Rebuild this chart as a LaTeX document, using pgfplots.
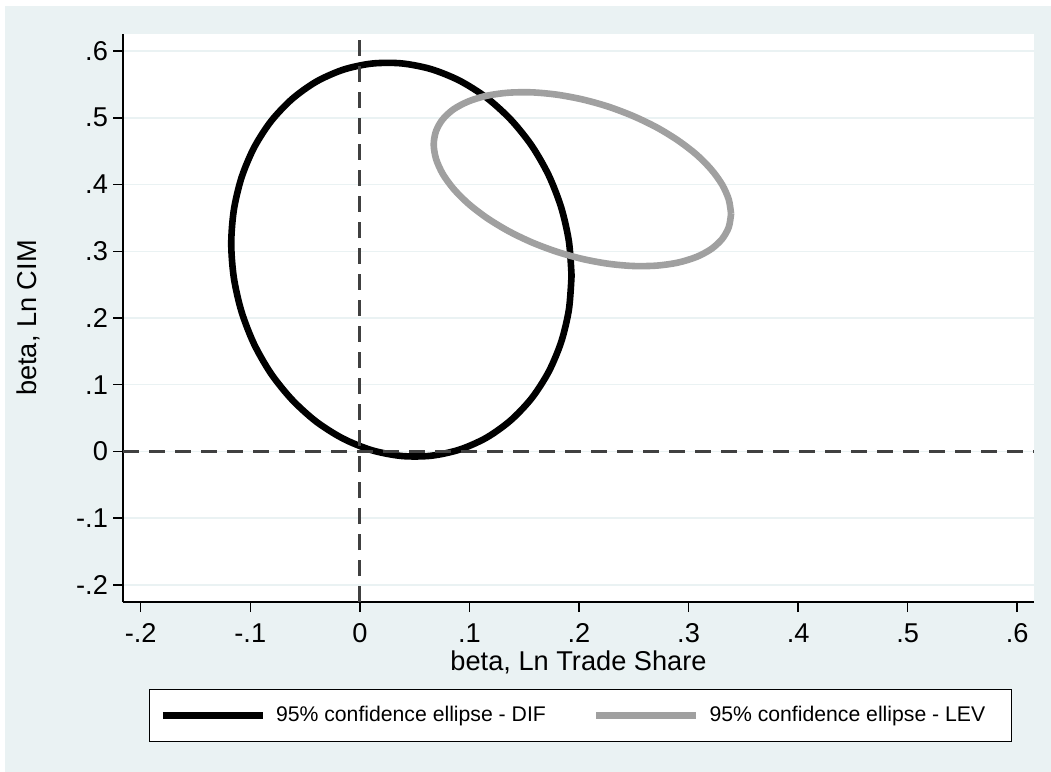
\documentclass[border=0pt]{standalone}
\usepackage{fontspec}
\setmainfont{Liberation Sans}
\usepackage{pgfplots}
\pgfplotsset{compat=1.18}
\definecolor{bg}{RGB}{234,242,243}
\definecolor{lev}{RGB}{160,160,160}
\definecolor{refl}{RGB}{64,64,64}
\begin{document}
\begin{tikzpicture}
\fill[white] (0,0) rectangle (525.5pt,386pt);
\fill[bg] (2.5pt,0) rectangle (525.5pt,383pt);
\begin{axis}[
 at={(61.5pt,85pt)}, anchor=south west,
 scale only axis, width=455.5pt, height=284pt,
 xmin=-0.2162, xmax=0.6153, ymin=-0.2255, ymax=0.6255,
 axis lines=left, axis line style={-, black, line width=0.75pt},
 axis background/.style={fill=white},
 tick align=outside, major tick length=5pt,
 tick style={black, line width=0.75pt},
 xtick={-0.2,-0.1,0,0.1,0.2,0.3,0.4,0.5,0.6},
 xticklabels={-.2,-.1,0,.1,.2,.3,.4,.5,.6},
 ytick={-0.2,-0.1,0,0.1,0.2,0.3,0.4,0.5,0.6},
 yticklabels={-.2,-.1,0,.1,.2,.3,.4,.5,.6},
 ymajorgrids, grid style={bg, line width=0.75pt},
 ticklabel style={font=\fontsize{13.6}{15}\selectfont},
 xticklabel style={yshift=-2.3pt},
 yticklabel style={xshift=1pt},
 label style={font=\fontsize{13.6}{15}\selectfont},
 xlabel={beta, Ln Trade Share},
 ylabel={beta, Ln CIM},
 xlabel style={at={(axis description cs:0.5,-0.1057)}, anchor=center},
 ylabel style={at={(axis description cs:-0.1043,0.5)}, anchor=center},
 legend columns=2,
 legend cell align=left,
 legend style={at={(0.0285,-0.1532)}, anchor=north west, draw=black, line width=0.5pt, fill=white,
   font=\fontsize{10.6}{12}\selectfont, inner xsep=5pt, inner ysep=6.3pt,
   /tikz/every even column/.append style={column sep=21.5pt}},
 legend image code/.code={\draw[#1] (0pt,0pt) -- (50pt,0pt); \path (53pt,0pt);},
]
\addplot[black, line width=3.3pt, smooth, line join=round] coordinates {
(0.1932,0.2634) (0.1908,0.3148) (0.1838,0.3654) (0.1724,0.4137) (0.1569,0.4581)
(0.1377,0.4973) (0.1156,0.5301) (0.0910,0.5556) (0.0649,0.5729) (0.0379,0.5815)
(0.0109,0.5812) (-0.0152,0.5720) (-0.0398,0.5541) (-0.0619,0.5281) (-0.0811,0.4948)
(-0.0966,0.4552) (-0.1080,0.4105) (-0.1150,0.3621) (-0.1174,0.3114) (-0.1150,0.2600)
(-0.1080,0.2094) (-0.0966,0.1611) (-0.0811,0.1167) (-0.0619,0.0776) (-0.0398,0.0447)
(-0.0152,0.0192) (0.0109,0.0019) (0.0379,-0.0067) (0.0649,-0.0064) (0.0910,0.0028)
(0.1156,0.0207) (0.1377,0.0467) (0.1569,0.0800) (0.1724,0.1196) (0.1838,0.1643)
(0.1908,0.2127) (0.1932,0.2634)
};
\addlegendentry{95\% confidence ellipse - DIF}
\addplot[lev, line width=3.3pt, smooth, line join=round] coordinates {
(0.3388,0.3560) (0.3367,0.3775) (0.3306,0.4000) (0.3206,0.4227) (0.3071,0.4450)
(0.2903,0.4661) (0.2710,0.4855) (0.2495,0.5025) (0.2267,0.5167) (0.2031,0.5275)
(0.1795,0.5347) (0.1567,0.5381) (0.1353,0.5375) (0.1159,0.5330) (0.0992,0.5246)
(0.0856,0.5128) (0.0756,0.4977) (0.0695,0.4800) (0.0674,0.4600) (0.0695,0.4385)
(0.0756,0.4160) (0.0856,0.3933) (0.0992,0.3710) (0.1159,0.3499) (0.1353,0.3305)
(0.1567,0.3135) (0.1795,0.2994) (0.2031,0.2885) (0.2267,0.2813) (0.2495,0.2779)
(0.2710,0.2785) (0.2903,0.2830) (0.3071,0.2914) (0.3206,0.3032) (0.3306,0.3183)
(0.3367,0.3360) (0.3388,0.3560)
};
\addlegendentry{95\% confidence ellipse - LEV\hspace*{6pt}}
\addplot[refl, line width=1.5pt, dash pattern=on 8pt off 5pt, forget plot] coordinates {(0,-0.2255) (0,0.6255)};
\addplot[refl, line width=1.5pt, dash pattern=on 8pt off 5pt, forget plot] coordinates {(-0.2162,0) (0.6153,0)};
\end{axis}
\end{tikzpicture}
\end{document}
